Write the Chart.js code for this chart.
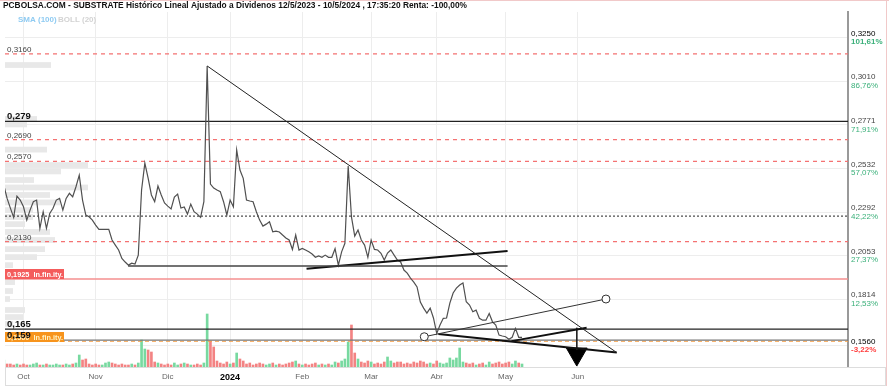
<!DOCTYPE html>
<html>
<head>
<meta charset="utf-8">
<script src="https://cdn.jsdelivr.net/npm/chart.js@4.4.1/dist/chart.umd.min.js"></script>
<style>
  html, body { margin: 0; padding: 0; background: #fff; }
  #chart { display: block; }
</style>
</head>
<body>
<canvas id="chart" width="889" height="386"></canvas>
<script>
// x values are trading days counted from 2 Oct 2023 (= day 0)
const firstDay = -6;

const closes = [
    0.2440, 0.2367, 0.2314, 0.2263, 0.2380, 0.2358, 0.2321, 0.2248, 0.2303, 0.2349,
    0.2358, 0.2203, 0.2294, 0.2203, 0.2285, 0.2313, 0.2358, 0.2367, 0.2303, 0.2367,
    0.2395, 0.2376, 0.2431, 0.2495, 0.2358, 0.2276, 0.2266, 0.2248, 0.2221, 0.2197,
    0.2197, 0.2197, 0.2197, 0.2139, 0.2111, 0.2084, 0.2038, 0.2018, 0.2001, 0.2012,
    0.2007, 0.2056, 0.2413, 0.2561, 0.2479, 0.2386, 0.2349, 0.2435, 0.2386, 0.2342,
    0.2325, 0.2309, 0.2375, 0.2391, 0.2314, 0.2320, 0.2281, 0.2336, 0.2294, 0.2281,
    0.2263, 0.2349, 0.3094, 0.2446, 0.2424, 0.2413, 0.2404, 0.2349, 0.2276, 0.2358,
    0.2321, 0.2633, 0.2523, 0.2477, 0.2358, 0.2353, 0.2349, 0.2294, 0.2248, 0.2215,
    0.2226, 0.2239, 0.2184, 0.2188, 0.2183, 0.2166, 0.2150, 0.2139, 0.2087, 0.2166,
    0.2084, 0.2093, 0.2084, 0.2074, 0.2062, 0.2044, 0.2051, 0.2044, 0.2056, 0.2044,
    0.2044, 0.2091, 0.2001, 0.2074, 0.2121, 0.2545, 0.2266, 0.2160, 0.2194, 0.2139,
    0.2111, 0.2044, 0.2139, 0.2087, 0.2084, 0.2066, 0.2029, 0.2067, 0.2084, 0.2056,
    0.2029, 0.2018, 0.1974, 0.1957, 0.1930, 0.1908, 0.1881, 0.1798, 0.1765, 0.1738,
    0.1765, 0.1711, 0.1626, 0.1672, 0.1709, 0.1711, 0.1793, 0.1848, 0.1875, 0.1892,
    0.1903, 0.1800, 0.1782, 0.1745, 0.1754, 0.1709, 0.1699, 0.1699, 0.1736, 0.1690,
    0.1672, 0.1617, 0.1612, 0.1608, 0.1594, 0.1605, 0.1654, 0.1605, 0.1605
];

const volumes = [
    70, 30, 30, 20, 30, 20, 30, 20, 20, 30,
    40, 20, 20, 30, 20, 20, 30, 20, 20, 30,
    20, 30, 40, 120, 70, 80, 30, 20, 30, 20,
    20, 40, 50, 40, 30, 20, 30, 20, 20, 30,
    20, 40, 270, 180, 170, 150, 50, 40, 30, 20,
    30, 20, 40, 20, 30, 40, 30, 20, 20, 30,
    20, 40, 530, 260, 200, 60, 40, 30, 50, 30,
    40, 140, 80, 60, 30, 40, 20, 30, 40, 30,
    20, 30, 40, 20, 30, 20, 30, 40, 50, 60,
    30, 20, 30, 20, 30, 40, 20, 30, 20, 30,
    20, 50, 40, 60, 80, 250, 420, 140, 80, 50,
    40, 60, 50, 30, 40, 30, 50, 100, 60, 40,
    50, 50, 30, 40, 30, 50, 40, 60, 50, 30,
    40, 30, 60, 40, 30, 40, 90, 70, 90, 190,
    50, 40, 30, 40, 20, 30, 40, 20, 50, 30,
    40, 50, 30, 40, 50, 30, 60, 40, 30
];

const monthDays = [0, 22, 44, 63, 85, 106, 126, 147, 169];
const monthLabels = ['Oct', 'Nov', 'Dic', '2024', 'Feb', 'Mar', 'Abr', 'May', 'Jun'];

const priceTicks = [0.3250, 0.3010, 0.2771, 0.2532, 0.2292, 0.2053, 0.1814, 0.1560];
const pctTicks = ['101,61%', '86,76%', '71,91%', '57,07%', '42,22%', '27,37%', '12,53%', '-3,22%'];

// volume by price (left histogram)
const profilePrices = [0.3099, 0.2803, 0.2773, 0.2635, 0.2550, 0.2515, 0.2468, 0.2427, 0.2386, 0.2345,
    0.2303, 0.2265, 0.2226, 0.2183, 0.2139, 0.2089, 0.2045, 0.2001, 0.1908, 0.1859,
    0.1815, 0.1755, 0.1716, 0.1678];
const profileVolumes = [460, 320, 220, 420, 830, 560, 290, 830, 450, 550,
    280, 280, 200, 450, 500, 400, 320, 80, 100, 80,
    50, 200, 180, 80];
const profileStep = 0.0037;

const resistLevels = [0.3160, 0.2690, 0.2570, 0.2130];
const keyLevels = [0.279, 0.165, 0.159];
const supportLevel = 0.2270;
const alertLevels = [0.1925, 0.1583];
const alertLabels = ['0,1925  In.fin.ity.', '0,1560  In.fin.ity.'];

// drawn trend lines: [day, price] pairs
const mainTrend = [[56, 0.3094], [180.8, 0.1522]];
const lateralLine = [[31.9, 0.1996], [147.6, 0.1996]];
const risingLine = [[86.3, 0.1981], [147.6, 0.2078]];
const channelTop = [[122.2, 0.1608], [177.6, 0.1815]];
const channelBottom = [[126.5, 0.1623], [180.9, 0.1522]];
const reboundLine = [[148.8, 0.1584], [171.7, 0.1657]];
const targetLine = [[168.7, 0.1657], [168.7, 0.1535]];
const targetMark = [168.7, 0.1513];

const xMin = -5.64, xMax = 251.4;
const yMin = 0.1442, yMax = 0.3390;

const FONT = '"Liberation Sans", Arial, sans-serif';
const fmt = (v, d) => v.toFixed(d).replace('.', ',');

const pricePoints = closes.map((c, i) => ({x: firstDay + i, y: c}));
const volumePoints = volumes.map((v, i) => ({x: firstDay + i, y: v}));
const volumeColors = closes.map((c, i) => (i === 0 || c >= closes[i - 1]) ? '#78d9a0' : '#f38383');

const toPts = seg => seg.map(p => ({x: p[0], y: p[1]}));
const flat = v => [{x: xMin, y: v}, {x: xMax, y: v}];

function line(data, color, width, extra) {
    return Object.assign({
        type: 'line', data: data, borderColor: color, borderWidth: width,
        pointRadius: 0, fill: false, order: 1
    }, extra || {});
}

const datasets = [
    line(toPts(mainTrend), '#222', 1),
    line(toPts(lateralLine), '#444', 1.5),
    line(toPts(risingLine), '#111', 2),
    line(toPts(channelTop), '#333', 1, {
        pointRadius: 4, pointBackgroundColor: '#fff', pointBorderColor: '#333', pointBorderWidth: 1
    }),
    line(toPts(channelBottom), '#111', 2),
    line(toPts(reboundLine), '#111', 2),
    line(toPts(targetLine), '#222', 1),
    line([{x: targetMark[0], y: targetMark[1]}], '#000', 1, {
        showLine: false, pointStyle: 'triangle', rotation: 180, pointRadius: 12,
        pointBackgroundColor: '#000', pointBorderColor: '#000'
    }),
    line(pricePoints, '#505050', 1.2, {order: 3}),
    ...resistLevels.map(v => line(flat(v), '#f47272', 1.3, {borderDash: [4, 4], order: 5})),
    line(flat(keyLevels[0]), '#222', 1.3, {order: 5}),
    line(flat(keyLevels[1]), '#222', 1.3, {order: 5}),
    line(flat(keyLevels[2]), '#777', 1.3, {order: 5}),
    line(flat(supportLevel), '#222', 1, {borderDash: [2, 2], order: 5}),
    line(flat(alertLevels[0]), '#f58f8f', 1.5, {order: 5}),
    line(flat(alertLevels[1]), '#f5a04a', 1, {borderDash: [4, 3], order: 5}),
    {
        type: 'bar', data: volumePoints, yAxisID: 'yv', backgroundColor: volumeColors,
        barThickness: 2, grouped: false, order: 10
    }
];

const overlay = {
    id: 'overlay',
    beforeDatasetsDraw(chart) {
        const {ctx, scales: {y, xp}} = chart;
        ctx.save();
        ctx.fillStyle = '#e8e8e8';
        profilePrices.forEach((p, i) => {
            const top = y.getPixelForValue(p + profileStep / 2);
            const bottom = y.getPixelForValue(p - profileStep / 2);
            const left = xp.getPixelForValue(0);
            const right = xp.getPixelForValue(profileVolumes[i]);
            ctx.fillRect(left, top + 0.5, right - left, bottom - top - 1);
        });
        ctx.restore();
    },
    afterDatasetsDraw(chart) {
        const {ctx, chartArea, scales: {y}} = chart;
        const x0 = chartArea.left + 2;
        ctx.save();
        ctx.textBaseline = 'alphabetic';
        ctx.textAlign = 'left';

        ctx.font = '8px ' + FONT;
        ctx.fillStyle = '#444';
        resistLevels.forEach(v => ctx.fillText(fmt(v, 4), x0, y.getPixelForValue(v) - 2));

        // alert boxes
        const boxColors = ['#f45c5c', '#f7941d'];
        const textColors = ['#fff', '#fff3c4'];
        alertLevels.forEach((v, i) => {
            const py = Math.round(y.getPixelForValue(v));
            ctx.fillStyle = boxColors[i];
            ctx.fillRect(chartArea.left, py - 10 + i, 59, 10);
            ctx.fillStyle = textColors[i];
            ctx.font = 'bold 8px ' + FONT;
            ctx.fillText(alertLabels[i], x0, py - 2 + i, 56);
        });

        ctx.font = 'bold 9.5px ' + FONT;
        ctx.fillStyle = '#111';
        keyLevels.forEach(v => ctx.fillText(fmt(v, 3), x0, y.getPixelForValue(v) - 2));
        ctx.restore();
    },
    afterDraw(chart) {
        const {ctx, chartArea, scales: {y}} = chart;
        ctx.save();

        // right axis: price and change
        ctx.textAlign = 'left';
        ctx.textBaseline = 'middle';
        priceTicks.forEach((v, i) => {
            const py = y.getPixelForValue(v);
            const strong = i === 0 || i === priceTicks.length - 1;
            ctx.font = '8px ' + FONT;
            ctx.fillStyle = strong ? '#000' : '#444';
            ctx.fillText(fmt(v, 4), chartArea.right + 3, py - 4);
            ctx.font = (strong ? 'bold ' : '') + '8px ' + FONT;
            ctx.fillStyle = pctTicks[i].startsWith('-') ? '#ff3d3d' : '#3bb07a';
            ctx.fillText(pctTicks[i], chartArea.right + 3, py + 4.5);
        });

        // title and indicator legend
        ctx.fillStyle = '#111';
        ctx.font = 'bold 8.4px ' + FONT;
        ctx.fillText('PCBOLSA.COM - SUBSTRATE Histórico Lineal Ajustado a Dividenos 12/5/2023 - 10/5/2024 , 17:35:20 Renta: -100,00%', 3, 6, 464);
        ctx.font = 'bold 8px ' + FONT;
        ctx.fillStyle = '#8fcbf2';
        ctx.fillText('SMA (100)', 18, 19.5);
        ctx.fillStyle = '#d3d3d3';
        ctx.fillText('BOLL (20)', 58, 19.5);

        // frame bits
        ctx.strokeStyle = '#f1c9c9';
        ctx.lineWidth = 1;
        ctx.beginPath();
        ctx.moveTo(0, 0.5); ctx.lineTo(889, 0.5);
        ctx.moveTo(886.5, 0); ctx.lineTo(886.5, 386);
        ctx.stroke();
        ctx.strokeStyle = '#ddd';
        ctx.strokeRect(chartArea.left + 0.5, chartArea.bottom + 0.5, 880, 18);
        ctx.restore();
    }
};

new Chart(document.getElementById('chart'), {
    type: 'line',
    data: {datasets: datasets},
    options: {
        responsive: false,
        animation: false,
        devicePixelRatio: 1,
        layout: {autoPadding: false, padding: {left: 5, top: 12, right: 0, bottom: 0}},
        plugins: {legend: {display: false}, tooltip: {enabled: false}},
        scales: {
            x: {
                type: 'linear', min: xMin, max: xMax, offset: false,
                grid: {color: '#ededed', drawTicks: false, offset: false},
                border: {color: '#999', width: 1},
                afterBuildTicks: scale => { scale.ticks = monthDays.map(v => ({value: v})); },
                afterFit: scale => {
                    scale.height = 19;
                    scale.paddingLeft = 0;
                    scale.paddingRight = 0;
                },
                ticks: {
                    autoSkip: false, maxRotation: 0, padding: 5,
                    callback: (v, i) => monthLabels[i],
                    color: c => monthLabels[c.index] === '2024' ? '#000' : '#666',
                    font: c => ({family: FONT, size: monthLabels[c.index] === '2024' ? 9 : 8,
                        weight: monthLabels[c.index] === '2024' ? 'bold' : 'normal'})
                }
            },
            y: {
                type: 'linear', position: 'right', min: yMin, max: yMax,
                grid: {color: '#ededed', drawTicks: false},
                border: {color: '#999', width: 2},
                afterBuildTicks: scale => { scale.ticks = priceTicks.map(v => ({value: v})); },
                afterFit: scale => { scale.width = 41; },
                ticks: {display: false}
            },
            yv: {type: 'linear', display: false, min: 0, max: 3550},
            xp: {type: 'linear', axis: 'x', display: false, min: 0, max: 8430}
        }
    },
    plugins: [overlay]
});
</script>
</body>
</html>
